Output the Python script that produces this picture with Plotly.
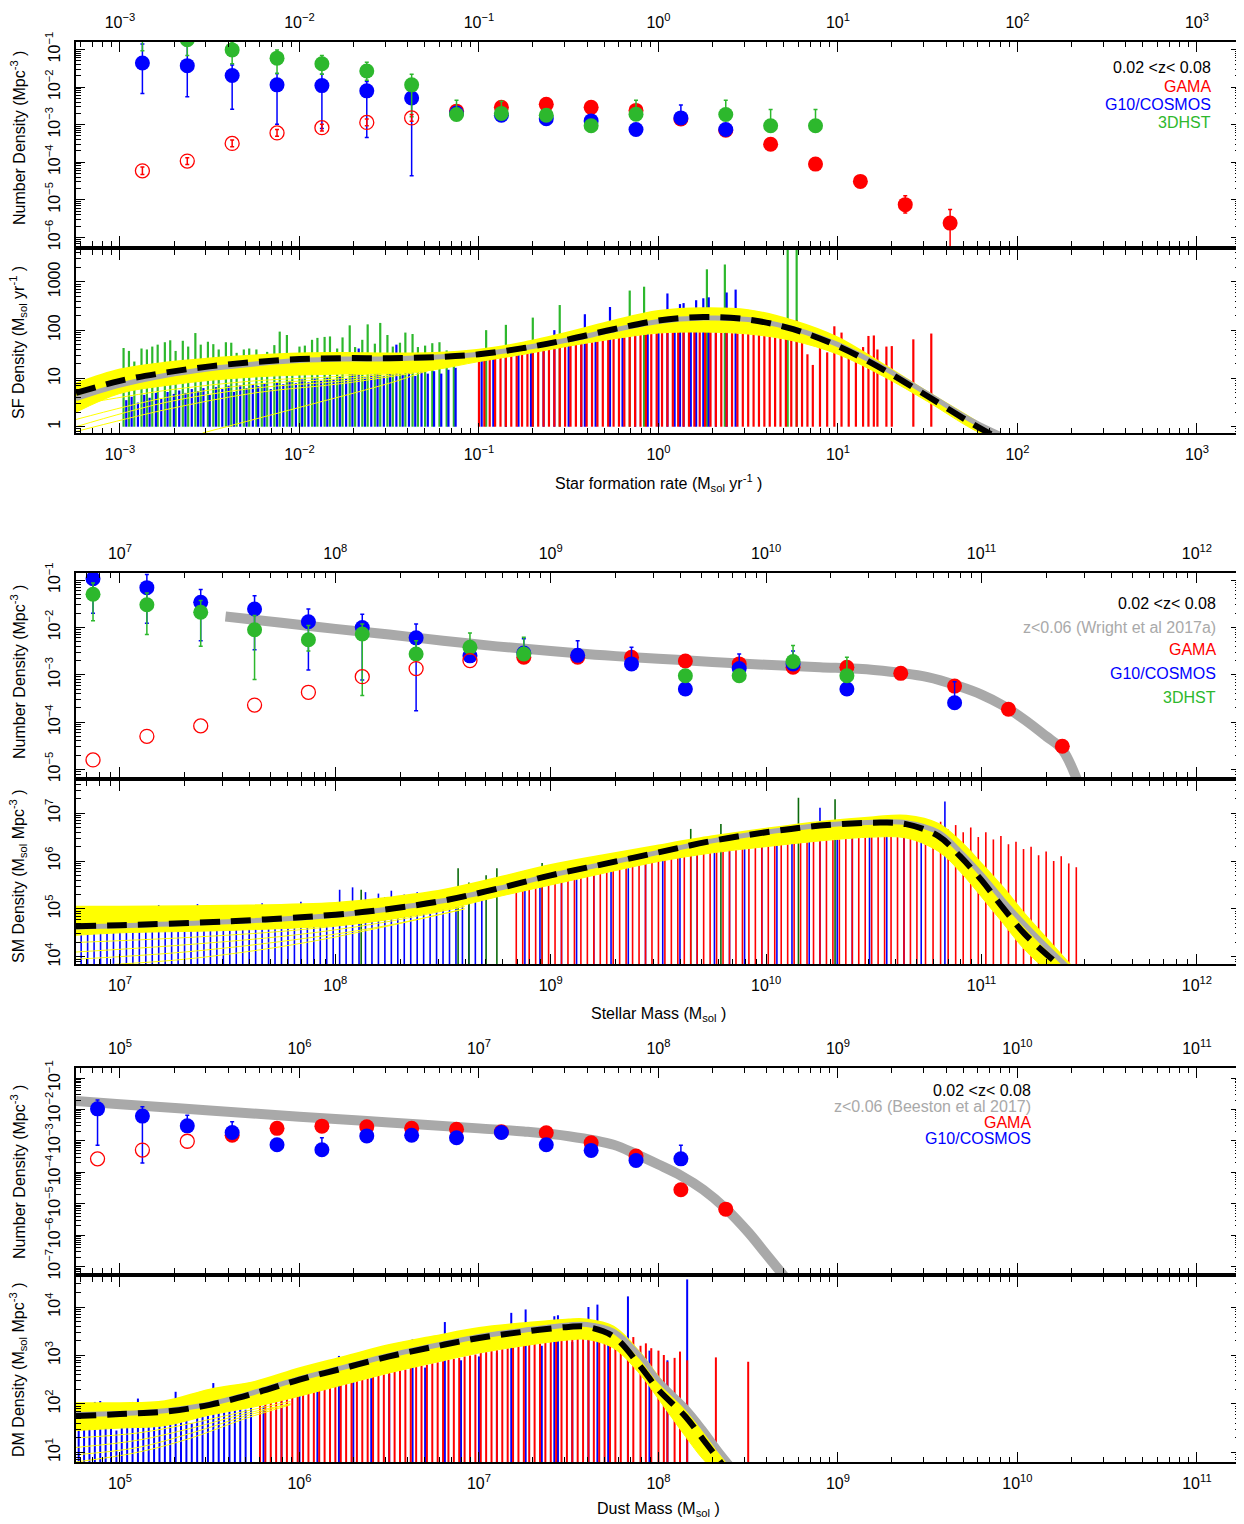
import plotly.graph_objects as go

# page body has an 8px default margin: lay the figure out in reference pixels minus that offset
OFF = 8
W, H = 1236, 1516
FONT = "Liberation Sans, Arial, Helvetica, sans-serif"
RED, BLUE, GREEN, DGREEN = "#FF0000", "#0000FF", "#2DB82D", "#0A6A0A"
GREY, YELLOW = "#A9A9A9", "#FFFF00"

# ====================== DATA (all values are log10) ======================
# ---------- Panel A: star formation rate ----------
sfr_gama_x = [-1.125, -0.875, -0.625, -0.375, -0.125, 0.125, 0.375, 0.625, 0.875, 1.125, 1.375, 1.625]
sfr_gama_y = [-2.64, -2.54, -2.46, -2.54, -2.62, -2.85, -3.15, -3.52, -4.05, -4.51, -5.13, -5.62]
sfr_gama_hi = [-2.58, -2.48, -2.40, -2.48, -2.56, -2.79, -3.08, -3.45, -3.97, -4.42, -4.89, -5.26]
sfr_gama_lo = [-2.70, -2.60, -2.52, -2.60, -2.68, -2.91, -3.22, -3.60, -4.13, -4.60, -5.35, -6.60]

sfr_gopen_x = [-2.875, -2.625, -2.375, -2.125, -1.875, -1.625, -1.375]
sfr_gopen_y = [-4.23, -3.97, -3.50, -3.22, -3.08, -2.94, -2.82]
sfr_gopen_hi = [-4.13, -3.88, -3.41, -3.13, -2.99, -2.85, -2.73]
sfr_gopen_lo = [-4.33, -4.06, -3.59, -3.31, -3.17, -3.03, -2.91]

sfr_cos_x = [-2.875, -2.625, -2.375, -2.125, -1.875, -1.625, -1.375, -1.125, -0.875, -0.625, -0.375, -0.125, 0.125, 0.375]
sfr_cos_y = [-1.36, -1.43, -1.69, -1.94, -1.96, -2.10, -2.29, -2.69, -2.75, -2.84, -2.90, -3.13, -2.82, -3.13]
sfr_cos_hi = [-0.85, -0.85, -1.41, -1.64, -1.66, -1.85, -2.10, -2.60, -2.66, -2.75, -2.80, -3.04, -2.48, -3.04]
sfr_cos_lo = [-2.17, -2.26, -2.59, -2.99, -3.10, -3.34, -4.36, -2.78, -2.84, -2.93, -3.00, -3.22, -2.92, -3.22]

sfr_hst_x = [-2.875, -2.625, -2.375, -2.125, -1.875, -1.625, -1.375, -1.125, -0.875, -0.625, -0.375, -0.125, 0.375, 0.625, 0.875]
sfr_hst_y = [-0.55, -0.74, -1.01, -1.23, -1.38, -1.57, -1.94, -2.73, -2.70, -2.75, -3.03, -2.72, -2.73, -3.03, -3.03]
sfr_hst_hi = [-0.40, -0.60, -0.80, -1.01, -1.16, -1.34, -1.66, -2.35, -2.38, -2.66, -2.94, -2.35, -2.35, -2.60, -2.60]
sfr_hst_lo = [-1.03, -1.16, -1.38, -1.64, -1.66, -1.82, -2.79, -2.82, -2.79, -2.84, -3.12, -2.81, -2.82, -3.12, -3.12]

# fits (SF density)
sfr_fit_x = [-3.245, -3.0, -2.75, -2.5, -2.25, -2.0, -1.75, -1.5, -1.25, -1.0, -0.75, -0.5, -0.25, 0.0, 0.25, 0.5, 0.75, 1.0, 1.25, 1.5, 1.75, 1.9]
sfr_band_hi = [0.90, 1.19, 1.33, 1.42, 1.48, 1.52, 1.53, 1.52, 1.53, 1.60, 1.75, 1.96, 2.20, 2.40, 2.46, 2.42, 2.20, 1.85, 1.30, 0.72, 0.16, -0.20]
sfr_band_lo = [0.30, 0.69, 0.85, 0.96, 1.03, 1.07, 1.09, 1.10, 1.18, 1.35, 1.50, 1.67, 1.82, 1.94, 1.96, 1.92, 1.78, 1.50, 1.05, 0.52, -0.05, -0.30]
sfr_dash = [0.70, 0.95, 1.12, 1.25, 1.34, 1.40, 1.42, 1.42, 1.44, 1.50, 1.63, 1.81, 2.02, 2.20, 2.27, 2.22, 2.02, 1.67, 1.19, 0.63, 0.06, -0.25]
sfr_grey = [0.58, 0.86, 1.06, 1.20, 1.30, 1.37, 1.40, 1.41, 1.44, 1.50, 1.63, 1.80, 2.00, 2.18, 2.25, 2.22, 2.03, 1.70, 1.23, 0.68, 0.12, -0.15]
sfr_stray_x = [-3.245, -2.75, -2.25, -1.75, -1.25]
sfr_stray_y = [[0.00, 0.50, 0.80, 0.95, 1.20],
               [0.15, 0.60, 0.88, 1.00, 1.22],
               [-0.10, 0.35, 0.70, 0.90, 1.18],
               [0.45, 0.75, 0.95, 1.05, 1.25]]
sfr_stray2_x = [-2.54, -2.0, -1.5, -1.2, -1.0]
sfr_stray2_y = [-0.13, 0.40, 0.90, 1.25, 1.36]

# individual galaxy spikes (SF density)
sfr_spk_g_x = [-2.98, -2.95, -2.92, -2.88, -2.85, -2.82, -2.79, -2.75, -2.72, -2.69,
               -2.65, -2.62, -2.58, -2.55, -2.51, -2.48, -2.45, -2.41, -2.38, -2.35,
               -2.31, -2.28, -2.24, -2.21, -2.18, -2.14, -2.11, -2.07, -2.04, -2.00,
               -1.97, -1.93, -1.90, -1.86, -1.83, -1.79, -1.76, -1.72, -1.69, -1.65,
               -1.62, -1.58, -1.55, -1.51, -1.48, -1.44, -1.41, -1.37, -1.34, -1.30,
               -1.26, -1.22, -1.18, -1.14,
               -0.96, -0.85, -0.70, -0.55, -0.16, -0.08, 0.27, 0.37, 0.72, 0.77]
sfr_spk_g_h = [1.63, 1.57, 1.35, 1.62, 1.60, 1.66, 1.70, 1.75, 1.79, 1.57,
               1.78, 1.66, 1.94, 1.70, 1.76, 1.71, 1.60, 1.75, 1.74, 1.53,
               1.60, 1.62, 1.60, 1.35, 1.55, 1.69, 1.97, 1.90, 1.50, 1.66,
               1.68, 1.80, 1.84, 1.86, 1.87, 1.62, 1.85, 2.10, 1.65, 1.80,
               2.12, 1.72, 2.15, 1.90, 1.66, 1.74, 1.95, 1.92, 1.65, 1.68,
               1.73, 1.75, 1.58, 1.46,
               2.00, 2.11, 2.26, 2.52, 2.82, 2.90, 3.26, 3.36, 3.80, 3.80]
sfr_spk_b_x = [-2.965, -2.935, -2.90, -2.865, -2.835, -2.80, -2.77, -2.735, -2.70, -2.67,
               -2.635, -2.60, -2.565, -2.535, -2.50, -2.465, -2.43, -2.395, -2.365, -2.33,
               -2.295, -2.26, -2.23, -2.195, -2.16, -2.125, -2.09, -2.055, -2.02, -1.985,
               -1.95, -1.915, -1.88, -1.845, -1.81, -1.775, -1.74, -1.705, -1.67, -1.635,
               -1.60, -1.565, -1.53, -1.495, -1.46, -1.425, -1.39, -1.355, -1.32, -1.285,
               -1.25, -1.21, -1.17, -1.13,
               -0.985, -0.92, -0.85, -0.78, -0.71, -0.64, -0.58, -0.50, -0.43, -0.41,
               -0.35, -0.27, -0.20, -0.13, -0.06, 0.00, 0.05, 0.09, 0.12, 0.14,
               0.18, 0.21, 0.25, 0.28, 0.32, 0.38, 0.43]
sfr_spk_b_h = [0.55, 0.62, 0.50, 0.66, 0.60, 0.70, 0.58, 0.72, 0.68, 0.75,
               0.70, 0.78, 0.74, 0.80, 0.66, 0.82, 0.78, 0.85, 0.72, 0.86,
               0.80, 0.88, 0.84, 0.90, 0.78, 0.92, 0.88, 0.95, 0.90, 0.98,
               0.92, 1.00, 0.95, 1.02, 0.98, 1.05, 1.00, 1.25, 1.62, 1.02,
               1.08, 1.30, 1.05, 1.10, 1.70, 1.08, 1.12, 1.05, 1.20, 1.10,
               1.15, 1.10, 1.18, 1.22,
               1.38, 1.42, 1.47, 1.52, 1.56, 1.60, 2.00, 1.72, 1.76, 2.33,
               1.82, 2.48, 1.90, 1.93, 1.96, 1.98, 2.76, 2.00, 2.54, 2.56,
               2.00, 2.62, 2.66, 2.68, 2.00, 2.78, 2.84]
sfr_spk_r_x = [-1.00, -0.97, -0.94, -0.91, -0.88, -0.85, -0.82, -0.79, -0.76, -0.73,
               -0.70, -0.67, -0.64, -0.61, -0.58, -0.55, -0.52, -0.49, -0.46, -0.43,
               -0.40, -0.37, -0.34, -0.31, -0.28, -0.25, -0.22, -0.19, -0.16, -0.13,
               -0.10, -0.07, -0.04, -0.01, 0.02, 0.05, 0.08, 0.11, 0.14, 0.17,
               0.20, 0.23, 0.26, 0.29, 0.32, 0.35, 0.38, 0.41, 0.44, 0.47,
               0.50, 0.53, 0.56, 0.59, 0.62, 0.65, 0.68, 0.71, 0.74, 0.77,
               0.80, 0.83, 0.86, 0.90, 0.94, 0.98, 1.02, 1.06, 1.10, 1.14,
               1.17, 1.20, 1.22, 1.27, 1.30, 1.42, 1.52]
sfr_spk_r_h = [1.37, 1.38, 1.40, 1.42, 1.43, 1.45, 1.46, 1.48, 1.50, 1.52,
               1.53, 1.55, 1.57, 1.59, 1.61, 1.63, 1.66, 1.68, 1.70, 1.71,
               1.73, 1.75, 1.77, 1.79, 1.80, 1.82, 1.84, 1.85, 1.87, 1.88,
               1.90, 1.91, 1.92, 1.94, 1.95, 1.95, 1.96, 1.96, 1.97, 1.97,
               1.97, 1.96, 1.96, 1.96, 1.95, 1.95, 1.94, 1.94, 1.93, 1.93,
               1.92, 1.91, 1.90, 1.89, 1.87, 1.85, 1.83, 1.82, 1.80, 2.20,
               1.78, 1.50, 1.28, 1.85, 1.54, 2.08, 1.95, 1.70, 1.60, 1.65,
               1.88, 1.89, 1.60, 1.66, 1.67, 1.81, 1.93]

# ---------- Panel B: stellar mass ----------
sm_gama_x = [8.875, 9.125, 9.375, 9.625, 9.875, 10.125, 10.375, 10.625, 10.875, 11.125, 11.375]
sm_gama_y = [-2.63, -2.63, -2.63, -2.71, -2.77, -2.84, -2.84, -2.97, -3.24, -3.73, -4.51]
sm_gama_hi = [-2.57, -2.57, -2.57, -2.65, -2.71, -2.78, -2.76, -2.91, -3.16, -3.66, -4.38]
sm_gama_lo = [-2.69, -2.69, -2.69, -2.77, -2.83, -2.90, -2.92, -3.03, -3.32, -3.80, -4.62]

sm_gopen_x = [6.875, 7.125, 7.375, 7.625, 7.875, 8.125, 8.375, 8.625]
sm_gopen_y = [-4.80, -4.30, -4.08, -3.64, -3.37, -3.04, -2.87, -2.70]

sm_cos_x = [6.875, 7.125, 7.375, 7.625, 7.875, 8.125, 8.375, 8.625, 8.875, 9.125, 9.375, 9.625, 9.875, 10.125, 10.375, 10.875]
sm_cos_y = [-0.97, -1.16, -1.47, -1.61, -1.88, -2.00, -2.22, -2.60, -2.54, -2.59, -2.77, -3.30, -2.87, -2.77, -3.30, -3.59]
sm_cos_hi = [-0.70, -0.88, -1.20, -1.33, -1.61, -1.72, -1.93, -2.28, -2.24, -2.28, -2.42, -3.22, -2.56, -2.50, -3.22, -3.15]
sm_cos_lo = [-1.70, -1.91, -2.28, -2.47, -2.90, -3.11, -3.76, -2.70, -2.64, -2.69, -2.87, -3.40, -2.97, -2.87, -3.40, -3.69]

sm_hst_x = [6.875, 7.125, 7.375, 7.625, 7.875, 8.125, 8.375, 8.625, 8.875, 9.625, 9.875, 10.125, 10.375]
sm_hst_y = [-1.30, -1.52, -1.68, -2.05, -2.26, -2.14, -2.56, -2.42, -2.56, -3.02, -3.02, -2.72, -3.02]
sm_hst_hi = [-1.06, -1.27, -1.43, -1.75, -1.96, -1.93, -2.28, -2.12, -2.21, -2.90, -2.92, -2.38, -2.63]
sm_hst_lo = [-1.86, -2.15, -2.40, -3.10, -2.50, -3.44, -2.66, -2.52, -2.66, -3.12, -3.12, -2.82, -3.12]

sm_wright_x = [7.49, 7.75, 8.0, 8.25, 8.5, 8.75, 9.0, 9.25, 9.5, 9.75, 10.0, 10.25, 10.5, 10.75, 10.9, 11.0, 11.1, 11.2, 11.3, 11.375, 11.45]
sm_wright_y = [-1.77, -1.90, -2.03, -2.15, -2.28, -2.40, -2.50, -2.59, -2.66, -2.73, -2.79, -2.84, -2.90, -3.05, -3.25, -3.42, -3.65, -3.95, -4.30, -4.58, -5.30]

sm_fit_x = [6.796, 7.0, 7.5, 8.0, 8.25, 8.5, 8.75, 9.0, 9.25, 9.5, 9.75, 10.0, 10.25, 10.5, 10.65, 10.8, 10.9, 11.0, 11.1, 11.2, 11.3, 11.42]
sm_dash = [4.64, 4.66, 4.74, 4.88, 5.00, 5.17, 5.42, 5.70, 5.94, 6.18, 6.42, 6.60, 6.74, 6.80, 6.77, 6.52, 6.10, 5.60, 5.02, 4.48, 4.06, 3.60]
sm_grey = [4.62, 4.65, 4.73, 4.87, 5.00, 5.17, 5.42, 5.70, 5.94, 6.18, 6.42, 6.60, 6.74, 6.81, 6.80, 6.60, 6.20, 5.72, 5.18, 4.68, 4.22, 3.70]
sm_band_hi = [5.05, 5.05, 5.07, 5.13, 5.24, 5.40, 5.65, 5.92, 6.13, 6.33, 6.52, 6.68, 6.82, 6.92, 6.95, 6.78, 6.42, 5.95, 5.45, 4.90, 4.40, 3.80]
sm_band_lo = [4.45, 4.50, 4.55, 4.65, 4.78, 4.98, 5.25, 5.50, 5.75, 5.99, 6.17, 6.30, 6.42, 6.50, 6.48, 6.20, 5.78, 5.25, 4.70, 4.15, 3.75, 3.50]
sm_stray_x = [6.796, 7.3, 7.8, 8.2, 8.6]
sm_stray_y = [[4.30, 4.40, 4.55, 4.75, 5.05],
              [4.10, 4.25, 4.45, 4.70, 5.05],
              [3.95, 4.10, 4.35, 4.62, 5.00],
              [3.80, 3.95, 4.25, 4.60, 5.00]]

sm_spk_b_x = [6.82, 6.85, 6.88, 6.91, 6.94, 6.97, 7.00, 7.03, 7.06, 7.09,
              7.12, 7.15, 7.18, 7.21, 7.24, 7.27, 7.30, 7.33, 7.36, 7.39,
              7.42, 7.45, 7.48, 7.51, 7.54, 7.57, 7.60, 7.63, 7.66, 7.69,
              7.72, 7.75, 7.78, 7.81, 7.84, 7.87, 7.90, 7.93, 7.96, 7.99,
              8.02, 8.05, 8.08, 8.11, 8.14, 8.17, 8.20, 8.23, 8.26, 8.29,
              8.32, 8.35, 8.38, 8.41, 8.44, 8.47, 8.50, 8.53, 8.56, 8.59,
              8.62, 8.65, 8.68,
              8.88, 8.95, 9.05, 9.12, 9.20, 9.28, 9.36, 9.44, 9.52, 9.60,
              9.68, 9.76, 9.83, 9.90, 9.98, 10.05, 10.12, 10.20, 10.25, 10.33,
              10.40, 10.48, 10.56, 10.64, 10.72, 10.83]
sm_spk_b_h = [4.95, 5.02, 4.90, 5.00, 4.88, 5.03, 4.92, 4.98, 5.05, 4.90,
              5.00, 4.95, 5.08, 4.92, 4.98, 4.90, 5.00, 4.95, 5.10, 4.93,
              4.97, 5.02, 4.90, 5.05, 4.96, 5.08, 4.95, 5.02, 5.12, 4.98,
              5.05, 4.97, 5.08, 5.00, 5.15, 5.05, 5.12, 5.02, 5.10, 5.05,
              5.40, 5.10, 5.45, 5.15, 5.35, 5.20, 5.32, 5.25, 5.38, 5.22,
              5.30, 5.28, 5.35, 5.25, 5.30, 5.35, 5.32, 5.30, 5.45, 5.40,
              5.50, 5.42, 5.50,
              5.40, 5.75, 5.85, 5.62, 5.70, 6.00, 5.85, 5.95, 6.02, 6.08,
              6.15, 6.20, 6.54, 6.25, 6.30, 6.35, 6.38, 6.42, 7.11, 6.45,
              6.48, 6.50, 6.52, 6.50, 6.50, 7.24]
sm_spk_g_x = [8.12, 8.57, 8.62, 8.70, 8.75, 8.96, 9.65, 9.79, 10.15, 10.32]
sm_spk_g_h = [5.40, 5.85, 5.55, 5.70, 5.85, 5.96, 6.67, 6.77, 7.32, 7.29]
sm_spk_r_x = [8.84, 8.87, 8.90, 8.93, 8.96, 8.99, 9.02, 9.05, 9.08, 9.11,
              9.14, 9.17, 9.20, 9.23, 9.26, 9.29, 9.32, 9.35, 9.38, 9.41,
              9.44, 9.47, 9.50, 9.53, 9.56, 9.59, 9.62, 9.65, 9.68, 9.71,
              9.74, 9.77, 9.80, 9.83, 9.86, 9.89, 9.92, 9.95, 9.98, 10.01,
              10.04, 10.07, 10.10, 10.13, 10.16, 10.19, 10.22, 10.25, 10.28, 10.31,
              10.34, 10.37, 10.40, 10.43, 10.46, 10.49, 10.52, 10.55, 10.58, 10.61,
              10.64, 10.67, 10.70,
              10.74, 10.775, 10.81, 10.845, 10.88, 10.915, 10.95, 10.985, 11.02, 11.055,
              11.09, 11.125, 11.16, 11.195, 11.23, 11.265, 11.30, 11.335, 11.37, 11.405, 11.44]
sm_spk_r_h = [5.36, 5.40, 5.43, 5.46, 5.49, 5.52, 5.55, 5.58, 5.61, 5.64,
              5.67, 5.70, 5.72, 5.75, 5.78, 5.81, 5.84, 5.87, 5.90, 5.93,
              5.95, 5.98, 6.00, 6.02, 6.05, 6.07, 6.09, 6.11, 6.13, 6.15,
              6.17, 6.19, 6.20, 6.22, 6.23, 6.25, 6.26, 6.28, 6.29, 6.31,
              6.32, 6.34, 6.35, 6.37, 6.38, 6.39, 6.41, 6.42, 6.43, 6.44,
              6.45, 6.46, 6.47, 6.48, 6.49, 6.50, 6.50, 6.51, 6.51, 6.50,
              6.50, 6.49, 6.48,
              6.78, 6.70, 6.82, 6.66, 6.75, 6.60, 6.70, 6.50, 6.60, 6.45,
              6.52, 6.35, 6.40, 6.25, 6.30, 6.12, 6.20, 6.00, 6.10, 5.95, 5.87]

# ---------- Panel C: dust mass ----------
dm_cos_x = [4.875, 5.125, 5.375, 5.625, 5.875, 6.125, 6.375, 6.625, 6.875, 7.125, 7.375, 7.625, 7.875, 8.125]
dm_cos_y = [-1.98, -2.21, -2.52, -2.73, -3.12, -3.28, -2.84, -2.82, -2.90, -2.73, -3.12, -3.30, -3.62, -3.57]
dm_cos_hi = [-1.70, -1.91, -2.18, -2.39, -3.00, -2.90, -2.72, -2.70, -2.78, -2.60, -3.00, -3.18, -3.50, -3.14]
dm_cos_lo = [-3.14, -3.70, -2.64, -2.85, -3.24, -3.40, -2.96, -2.94, -3.02, -2.85, -3.24, -3.42, -3.74, -3.69]

dm_gama_x = [5.625, 5.875, 6.125, 6.375, 6.625, 6.875, 7.125, 7.375, 7.625, 7.875, 8.125, 8.375]
dm_gama_y = [-2.82, -2.60, -2.53, -2.55, -2.60, -2.63, -2.71, -2.74, -3.06, -3.48, -4.55, -5.17]
dm_gama_hi = [-2.72, -2.50, -2.43, -2.45, -2.50, -2.53, -2.61, -2.64, -2.96, -3.38, -4.45, -5.02]
dm_gama_lo = [-2.92, -2.70, -2.63, -2.65, -2.70, -2.73, -2.81, -2.84, -3.16, -3.58, -4.65, -5.32]

dm_gopen_x = [4.875, 5.125, 5.375]
dm_gopen_y = [-3.57, -3.29, -3.01]

dm_beeston_x = [4.755, 5.0, 5.5, 6.0, 6.5, 7.0, 7.25, 7.5, 7.75, 7.875, 8.0, 8.125, 8.25, 8.375, 8.5, 8.6, 8.7]
dm_beeston_y = [-1.73, -1.83, -2.03, -2.23, -2.41, -2.60, -2.70, -2.85, -3.12, -3.42, -3.75, -4.10, -4.55, -5.15, -5.90, -6.60, -7.30]

dm_fit_x = [4.755, 5.0, 5.25, 5.5, 5.75, 6.0, 6.25, 6.5, 6.75, 7.0, 7.25, 7.5, 7.6, 7.75, 7.9, 8.0, 8.15, 8.25, 8.35, 8.45]
dm_dash = [1.75, 1.79, 1.84, 1.98, 2.22, 2.50, 2.74, 2.98, 3.18, 3.36, 3.49, 3.59, 3.59, 3.39, 2.77, 2.29, 1.74, 1.26, 0.78, 0.30]
dm_grey = [1.78, 1.80, 1.86, 2.00, 2.24, 2.52, 2.76, 3.00, 3.20, 3.39, 3.52, 3.63, 3.64, 3.50, 2.98, 2.50, 1.95, 1.50, 1.00, 0.55]
dm_band_hi = [2.02, 2.02, 2.06, 2.30, 2.46, 2.74, 2.98, 3.22, 3.40, 3.57, 3.67, 3.75, 3.75, 3.60, 3.05, 2.56, 1.88, 1.40, 0.90, 0.50]
dm_band_lo = [1.45, 1.50, 1.55, 1.77, 1.94, 2.16, 2.40, 2.64, 2.85, 3.05, 3.20, 3.32, 3.33, 3.15, 2.60, 2.10, 1.33, 0.85, 0.50, 0.30]
dm_stray_x = [4.755, 5.1, 5.4, 5.7, 5.95]
dm_stray_y = [[1.30, 1.40, 1.60, 1.85, 2.05],
              [1.10, 1.25, 1.50, 1.80, 2.00],
              [0.95, 1.10, 1.40, 1.75, 2.00],
              [0.80, 1.00, 1.30, 1.70, 1.98]]

dm_spk_b_x = [4.77, 4.80, 4.83, 4.86, 4.89, 4.92, 4.95, 4.98, 5.01, 5.04,
              5.07, 5.10, 5.13, 5.16, 5.19, 5.22, 5.25, 5.28, 5.31, 5.34,
              5.37, 5.40, 5.43, 5.46, 5.49, 5.52, 5.55, 5.58, 5.61, 5.64,
              5.67, 5.70, 5.73,
              5.80, 5.90, 6.00, 6.10, 6.22, 6.30, 6.40, 6.50, 6.63, 6.70,
              6.81, 6.90, 7.00, 7.10, 7.18, 7.26, 7.35, 7.42, 7.44, 7.52,
              7.61, 7.66, 7.72, 7.83, 7.95, 8.05, 8.16]
dm_spk_b_h = [1.60, 2.02, 1.50, 2.04, 2.06, 1.55, 1.70, 1.45, 1.65, 1.60,
              2.04, 2.11, 1.70, 1.55, 1.75, 1.80, 2.00, 1.68, 2.25, 1.72,
              1.85, 1.60, 1.82, 1.90, 1.75, 2.43, 1.85, 2.34, 1.90, 2.34,
              1.95, 1.88, 2.00,
              1.95, 2.05, 2.17, 2.28, 2.99, 2.45, 2.53, 2.62, 3.33, 2.75,
              3.69, 2.90, 2.98, 3.05, 3.88, 3.95, 3.20, 3.81, 3.83, 3.28,
              4.00, 4.05, 3.30, 4.22, 3.10, 2.90, 4.57]
dm_spk_r_x = [5.78, 5.81, 5.84, 5.87, 5.90, 5.93, 5.96, 5.99, 6.02, 6.05,
              6.08, 6.11, 6.14, 6.17, 6.20, 6.23, 6.26, 6.29, 6.32, 6.35,
              6.38, 6.41, 6.44, 6.47, 6.50, 6.53, 6.56, 6.59, 6.62, 6.65,
              6.68, 6.71, 6.74, 6.77, 6.80, 6.83, 6.86, 6.89, 6.92, 6.95,
              6.98, 7.01, 7.04, 7.07, 7.10, 7.13, 7.16, 7.19, 7.22, 7.25,
              7.28, 7.31, 7.34, 7.37, 7.40, 7.43, 7.46, 7.49, 7.52, 7.55,
              7.58, 7.61, 7.64, 7.67, 7.70, 7.73, 7.76,
              7.79, 7.83, 7.86, 7.90, 7.93, 7.96, 8.00, 8.03, 8.05, 8.09,
              8.12, 8.16, 8.32, 8.50]
dm_spk_r_h = [1.97, 2.00, 2.03, 2.05, 2.08, 2.10, 2.13, 2.16, 2.19, 2.22,
              2.25, 2.28, 2.31, 2.34, 2.36, 2.39, 2.42, 2.45, 2.48, 2.50,
              2.53, 2.56, 2.59, 2.61, 2.64, 2.66, 2.69, 2.71, 2.74, 2.76,
              2.79, 2.81, 2.84, 2.86, 2.88, 2.91, 2.93, 2.95, 2.98, 3.00,
              3.02, 3.05, 3.07, 3.09, 3.11, 3.13, 3.15, 3.17, 3.19, 3.21,
              3.23, 3.25, 3.27, 3.29, 3.30, 3.32, 3.33, 3.34, 3.35, 3.36,
              3.36, 3.36, 3.35, 3.33, 3.30, 3.28, 3.25,
              3.45, 3.30, 3.38, 3.20, 3.25, 3.15, 3.10, 3.01, 2.87, 2.95,
              3.08, 2.90, 2.96, 2.87]

# tick decades per axis
sfr_ticks = [-3, -2, -1, 0, 1, 2, 3]
sm_ticks = [7, 8, 9, 10, 11, 12]
dm_ticks = [5, 6, 7, 8, 9, 10, 11]
nd1_ticks = [-6, -5, -4, -3, -2, -1]
sfd_ticks = [0, 1, 2, 3]
nd3_ticks = [-5, -4, -3, -2, -1]
smd_ticks = [4, 5, 6, 7]
nd5_ticks = [-7, -6, -5, -4, -3, -2, -1]
dmd_ticks = [1, 2, 3, 4]

# ====================== FIGURE ======================
fig = go.Figure()


def lin(v):
    return [10 ** a for a in v]


def ax(i):
    return ("x" if i == 1 else "x%d" % i), ("y" if i == 1 else "y%d" % i)


def points(i, xs, ys, color, his=None, los=None, open_=False):
    xa, ya = ax(i)
    err = None
    if his is not None:
        err = dict(type="data", symmetric=False,
                   array=[10 ** h - 10 ** y for h, y in zip(his, ys)],
                   arrayminus=[10 ** y - 10 ** l for l, y in zip(los, ys)],
                   color=color, thickness=1.5, width=2)
    if open_:
        mk = dict(symbol="circle-open", size=14, color=color, line=dict(width=1.3, color=color))
    else:
        mk = dict(symbol="circle", size=15, color=color, line=dict(width=0))
    fig.add_trace(go.Scatter(x=lin(xs), y=lin(ys), mode="markers", xaxis=xa, yaxis=ya,
                             marker=mk, error_y=err, showlegend=False, hoverinfo="skip"))


def line(i, xs, ys, color, width, dash=None, shape="spline"):
    xa, ya = ax(i)
    fig.add_trace(go.Scatter(x=lin(xs), y=lin(ys), mode="lines", xaxis=xa, yaxis=ya,
                             line=dict(color=color, width=width, dash=dash, shape=shape),
                             showlegend=False, hoverinfo="skip"))


def band(i, xs, lo, hi):
    xa, ya = ax(i)
    fig.add_trace(go.Scatter(x=lin(xs), y=lin(lo), mode="lines", xaxis=xa, yaxis=ya,
                             line=dict(color=YELLOW, width=1, shape="spline"),
                             showlegend=False, hoverinfo="skip"))
    fig.add_trace(go.Scatter(x=lin(xs), y=lin(hi), mode="lines", xaxis=xa, yaxis=ya,
                             fill="tonexty", fillcolor=YELLOW,
                             line=dict(color=YELLOW, width=1.5, shape="spline"),
                             showlegend=False, hoverinfo="skip"))


def spikes(i, xs, hs, base, color, width):
    xa, ya = ax(i)
    X, Y = [], []
    for x, h in zip(xs, hs):
        X += [10 ** x, 10 ** x, None]
        Y += [10 ** base, 10 ** h, None]
    fig.add_trace(go.Scatter(x=X, y=Y, mode="lines", xaxis=xa, yaxis=ya,
                             line=dict(color=color, width=width),
                             showlegend=False, hoverinfo="skip", connectgaps=False))


# ---- Panel 1 ----
points(1, sfr_gama_x, sfr_gama_y, RED, sfr_gama_hi, sfr_gama_lo)
points(1, sfr_cos_x, sfr_cos_y, BLUE, sfr_cos_hi, sfr_cos_lo)
points(1, sfr_hst_x, sfr_hst_y, GREEN, sfr_hst_hi, sfr_hst_lo)
points(1, sfr_gopen_x, sfr_gopen_y, RED, sfr_gopen_hi, sfr_gopen_lo, open_=True)

# ---- Panel 2 ----
spikes(2, sfr_spk_g_x, sfr_spk_g_h, 0.0, GREEN, 2.2)
spikes(2, sfr_spk_b_x, sfr_spk_b_h, 0.0, BLUE, 2.2)
spikes(2, sfr_spk_r_x, sfr_spk_r_h, 0.0, RED, 2.2)
for ys in sfr_stray_y:
    line(2, sfr_stray_x, ys, YELLOW, 1)
line(2, sfr_stray2_x, sfr_stray2_y, YELLOW, 1)
band(2, sfr_fit_x, sfr_band_lo, sfr_band_hi)
line(2, sfr_fit_x, sfr_grey, GREY, 5)
line(2, sfr_fit_x, sfr_dash, "black", 6, dash="20px,11px")

# ---- Panel 3 ----
line(3, sm_wright_x, sm_wright_y, GREY, 10)
points(3, sm_gama_x, sm_gama_y, RED, sm_gama_hi, sm_gama_lo)
points(3, sm_cos_x, sm_cos_y, BLUE, sm_cos_hi, sm_cos_lo)
points(3, sm_hst_x, sm_hst_y, GREEN, sm_hst_hi, sm_hst_lo)
points(3, sm_gopen_x, sm_gopen_y, RED, open_=True)

# ---- Panel 4 ----
spikes(4, sm_spk_b_x, sm_spk_b_h, 3.85, BLUE, 1.6)
spikes(4, sm_spk_g_x, sm_spk_g_h, 3.85, DGREEN, 1.6)
spikes(4, sm_spk_r_x, sm_spk_r_h, 3.85, RED, 1.6)
for ys in sm_stray_y:
    line(4, sm_stray_x, ys, YELLOW, 1)
band(4, sm_fit_x, sm_band_lo, sm_band_hi)
line(4, sm_fit_x, sm_grey, GREY, 5)
line(4, sm_fit_x, sm_dash, "black", 6, dash="20px,11px")

# ---- Panel 5 ----
line(5, dm_beeston_x, dm_beeston_y, GREY, 10)
points(5, dm_gama_x, dm_gama_y, RED, dm_gama_hi, dm_gama_lo)
points(5, dm_cos_x, dm_cos_y, BLUE, dm_cos_hi, dm_cos_lo)
points(5, dm_gopen_x, dm_gopen_y, RED, open_=True)

# ---- Panel 6 ----
spikes(6, dm_spk_b_x, dm_spk_b_h, 0.8, BLUE, 2)
spikes(6, dm_spk_r_x, dm_spk_r_h, 0.8, RED, 2)
for ys in dm_stray_y:
    line(6, dm_stray_x, ys, YELLOW, 1)
band(6, dm_fit_x, dm_band_lo, dm_band_hi)
line(6, dm_fit_x, dm_grey, GREY, 5)
line(6, dm_fit_x, dm_dash, "black", 6, dash="20px,11px")

# ====================== LAYOUT ======================


def pow_text(e):
    s = str(e).replace("-", "\u2212")
    return "10<sup>%s</sup>" % s


def px_x(p):
    return (p - OFF) / W


def px_y(p):
    return 1 - (p - OFF) / H


panels = [
    dict(top=42, bottom=246, xr=[-3.245, 3.24], yr=[-6.23, -0.80], side="top", xt=sfr_ticks, yt=nd1_ticks),
    dict(top=250, bottom=433, xr=[-3.245, 3.24], yr=[-0.13, 3.66], side="bottom", xt=sfr_ticks, yt=sfd_ticks, plain=True),
    dict(top=573, bottom=777, xr=[6.796, 12.2], yr=[-5.16, -0.85], side="top", xt=sm_ticks, yt=nd3_ticks),
    dict(top=781, bottom=964, xr=[6.796, 12.2], yr=[3.85, 7.67], side="bottom", xt=sm_ticks, yt=smd_ticks),
    dict(top=1068, bottom=1273, xr=[4.755, 11.24], yr=[-7.2, -0.68], side="top", xt=dm_ticks, yt=nd5_ticks),
    dict(top=1277, bottom=1462, xr=[4.755, 11.24], yr=[0.8, 4.62], side="bottom", xt=dm_ticks, yt=dmd_ticks),
]

tickfont = dict(family=FONT, size=16, color="black")
minor = dict(ticks="inside", ticklen=5, tickwidth=1, tickcolor="black", dtick="D1", showgrid=False)
lay = {}
for k, p in enumerate(panels, start=1):
    n = "" if k == 1 else str(k)
    ytext = ([str(10 ** e) for e in p["yt"]] if p.get("plain") else [pow_text(e) for e in p["yt"]])
    lay["xaxis" + n] = dict(
        type="log", range=p["xr"], domain=[px_x(76), px_x(1240)], anchor="y" + n, side=p["side"],
        tickmode="array", tickvals=[10.0 ** e for e in p["xt"]], ticktext=[pow_text(e) for e in p["xt"]],
        ticks="inside", ticklen=10, tickwidth=1.3, tickcolor="black", mirror="allticks",
        showline=True, linecolor="black", linewidth=2, showgrid=False, zeroline=False,
        minor=minor, tickfont=tickfont, ticklabelstandoff=6, fixedrange=True)
    lay["yaxis" + n] = dict(
        type="log", range=p["yr"], domain=[px_y(p["bottom"]), px_y(p["top"])], anchor="x" + n,
        tickmode="array", tickvals=[10.0 ** e for e in p["yt"]], ticktext=ytext, tickangle=-90,
        ticks="inside", ticklen=9, tickwidth=1.3, tickcolor="black", mirror="allticks",
        showline=True, linecolor="black", linewidth=2, showgrid=False, zeroline=False,
        minor=minor, tickfont=tickfont, ticklabelstandoff=8, fixedrange=True)


def ann(text, px, py, color="black", size=16, angle=0, xanchor="center"):
    return dict(text=text, x=px_x(px), y=px_y(py), xref="paper", yref="paper",
                showarrow=False, textangle=angle, xanchor=xanchor, yanchor="middle",
                font=dict(family=FONT, size=size, color=color))


annotations = [
    # axis titles
    ann("Star formation rate (M<sub>sol</sub> yr<sup>-1</sup> )", 658, 483),
    ann("Stellar Mass (M<sub>sol</sub> )", 658, 1014),
    ann("Dust Mass (M<sub>sol</sub> )", 658, 1509),
    ann("Number Density (Mpc<sup>-3</sup> )", 18, 138, angle=-90),
    ann("SF Density (M<sub>sol</sub> yr<sup>-1</sup> )", 18, 343, angle=-90),
    ann("Number Density (Mpc<sup>-3</sup> )", 18, 672, angle=-90),
    ann("SM Density (M<sub>sol</sub> Mpc<sup>-3</sup> )", 18, 876, angle=-90),
    ann("Number Density (Mpc<sup>-3</sup> )", 18, 1172, angle=-90),
    ann("DM Density (M<sub>sol</sub> Mpc<sup>-3</sup> )", 18, 1370, angle=-90),
    # legends
    ann("0.02 &lt;z&lt; 0.08", 1213, 67, xanchor="right"),
    ann("GAMA", 1213, 86, RED, xanchor="right"),
    ann("G10/COSMOS", 1213, 104, BLUE, xanchor="right"),
    ann("3DHST", 1213, 123, GREEN, xanchor="right"),
    ann("0.02 &lt;z&lt; 0.08", 1218, 603, xanchor="right"),
    ann("z&lt;0.06 (Wright et al 2017a)", 1218, 627, GREY, xanchor="right"),
    ann("GAMA", 1218, 650, RED, xanchor="right"),
    ann("G10/COSMOS", 1218, 673, BLUE, xanchor="right"),
    ann("3DHST", 1218, 697, GREEN, xanchor="right"),
    ann("0.02 &lt;z&lt; 0.08", 1033, 1090, xanchor="right"),
    ann("z&lt;0.06 (Beeston et al 2017)", 1033, 1106, GREY, xanchor="right"),
    ann("GAMA", 1033, 1122, RED, xanchor="right"),
    ann("G10/COSMOS", 1033, 1138, BLUE, xanchor="right"),
]

fig.update_layout(
    width=W, height=H, autosize=False,
    margin=dict(l=0, r=0, t=0, b=0, autoexpand=False),
    paper_bgcolor="white", plot_bgcolor="white",
    showlegend=False, annotations=annotations,
    font=dict(family=FONT, size=16, color="black"),
    **lay,
)

fig.write_html("out.html")
